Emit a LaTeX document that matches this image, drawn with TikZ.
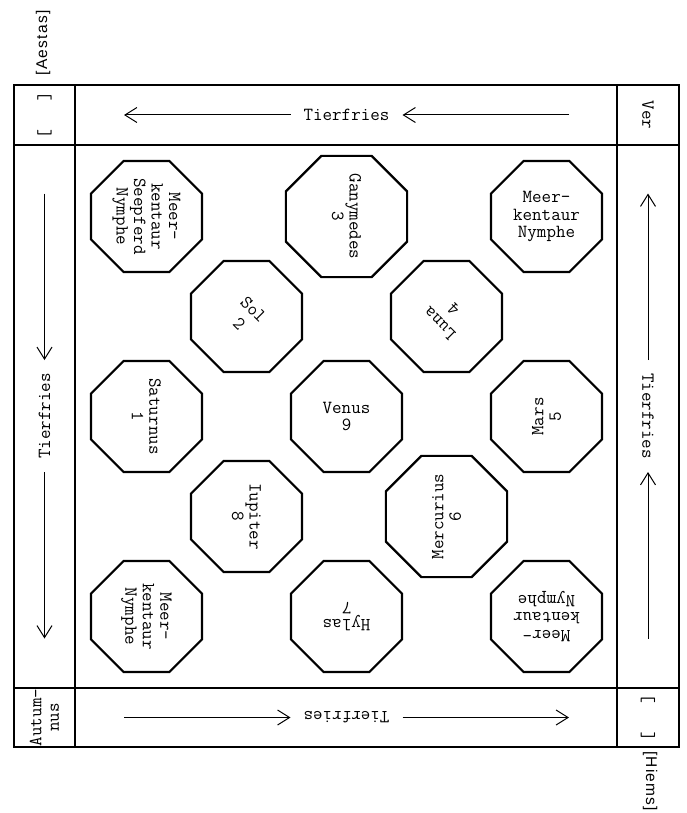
\documentclass[tikz,border=0pt]{standalone}
\usepackage{fontspec}
\newfontfamily\labsans[LetterSpace=8]{Liberation Sans}
\newcommand\twfont{\fontsize{18.5}{17.5}\selectfont\ttfamily}
\newcommand\twdiag{\fontsize{18.5}{20}\selectfont\ttfamily}
\usetikzlibrary{shapes.geometric,arrows.meta}
\begin{document}
\begin{tikzpicture}[x=1pt,y=-1pt,
  oct/.style={regular polygon,regular polygon sides=8,minimum size=120pt,
    inner sep=0pt,draw,line width=2.2pt,align=center,font=\twfont},
  octd/.style={oct,font=\twdiag},
  frame/.style={line width=1.6pt},
  frieze/.style={font=\twfont,inner sep=0pt},
  farrow/.style={line width=1pt,-{Straight Barb[length=12pt,width=15pt,line width=1pt]}},
  corner/.style={font=\twfont,inner sep=0pt,align=center},
  season/.style={font=\fontsize{15.5}{18}\selectfont\labsans,inner sep=0pt}
]
\useasboundingbox (0,0) rectangle (686,813);

% frame
\draw[frame] (14,85) rectangle (679,747);
\draw[frame] (75,85) -- (75,747);
\draw[frame] (617,85) -- (617,747);
\draw[frame] (14,145) -- (679,145);
\draw[frame] (14,688) -- (679,688);

% octagons
\node[oct,rotate=-90] (o00) at (146.5,216.5) {Meer-\\kentaur\\Seepferd\\Nymphe};
\node[oct,rotate=-90] (o20) at (346.5,216.5) {Ganymedes\\3};
\node[oct]            (o40) at (546.5,216.5) {Meer-\\kentaur\\Nymphe};
\node[octd,rotate=-45] (o11) at (246.5,316.5) {Sol\\2};
\node[octd,rotate=135] (o31) at (446.5,316.5) {Luna\\4};
\node[oct,rotate=-90] (o02) at (146.5,416.5) {Saturnus\\1};
\node[oct]            (o22) at (346.5,416.5) {Venus\\9};
\node[oct,rotate=90]  (o42) at (546.5,416.5) {Mars\\5};
\node[oct,rotate=-90] (o13) at (246.5,516.5) {Iupiter\\8};
\node[oct,rotate=90]  (o33) at (446.5,516.5) {Mercurius\\6};
\node[oct,rotate=-90] (o04) at (146.5,616.5) {Meer-\\kentaur\\Nymphe};
\node[oct,rotate=180] (o24) at (346.5,616.5) {Hylas\\7};
\node[oct,rotate=180] (o44) at (546.5,616.5) {Meer-\\kentaur\\Nymphe};

% top band
\begin{scope}[shift={(346.5,115)},rotate=0]
  \node[frieze] (tT) at (0,0) {Tierfries};
  \coordinate (tA1) at (-222.5,0); \coordinate (tA0) at (-56,0);
  \coordinate (tB1) at (56,0);     \coordinate (tB0) at (222.5,0);
  \draw[farrow] (tA0) -- (tA1);
  \draw[farrow] (tB0) -- (tB1);
\end{scope}
% left band
\begin{scope}[shift={(44.5,416)},rotate=90]
  \node[frieze,rotate=90] (lT) at (0,0) {Tierfries};
  \coordinate (lA1) at (-222.5,0); \coordinate (lA0) at (-56,0);
  \coordinate (lB1) at (56,0);     \coordinate (lB0) at (222.5,0);
  \draw[farrow] (lA0) -- (lA1);
  \draw[farrow] (lB0) -- (lB1);
\end{scope}
% bottom band
\begin{scope}[shift={(346.5,717.5)},rotate=180]
  \node[frieze,rotate=180] (bT) at (0,0) {Tierfries};
  \coordinate (bA1) at (-222.5,0); \coordinate (bA0) at (-56,0);
  \coordinate (bB1) at (56,0);     \coordinate (bB0) at (222.5,0);
  \draw[farrow] (bA0) -- (bA1);
  \draw[farrow] (bB0) -- (bB1);
\end{scope}
% right band
\begin{scope}[shift={(648,416)},rotate=-90]
  \node[frieze,rotate=-90] (rT) at (0,0) {Tierfries};
  \coordinate (rA1) at (-222.5,0); \coordinate (rA0) at (-56,0);
  \coordinate (rB1) at (56,0);     \coordinate (rB0) at (222.5,0);
  \draw[farrow] (rA0) -- (rA1);
  \draw[farrow] (rB0) -- (rB1);
\end{scope}

% corners
\node[corner,rotate=-90] (cTL) at (44.5,115) {[\phantom{xxx}]};
\node[corner,rotate=-90] (cTR) at (648,115) {Ver};
\node[corner,rotate=90]  (cBL) at (44.5,717.5) {Autum-\\nus};
\node[corner,rotate=90]  (cBR) at (648,717.5) {[\phantom{xxx}]};

% seasons outside
\node[season,rotate=90]  (aestas) at (43,43) {[Aestas]};
\node[season,rotate=-90,anchor=west] (hiems) at (650,751) {[Hiems]};
\end{tikzpicture}
\end{document}
